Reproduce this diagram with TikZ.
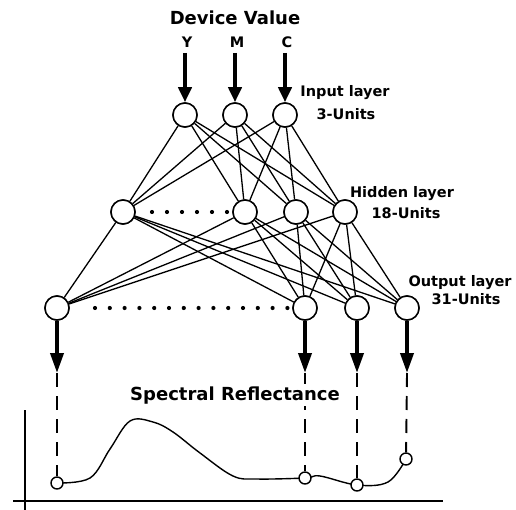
\documentclass[tikz,border=0pt]{standalone}
\usepackage{fontspec}
\setmainfont{DejaVu Sans}
\usetikzlibrary{arrows.meta}
\begin{document}
\begin{tikzpicture}[x=1pt,y=-1pt,
  unit/.style={circle,draw,line width=1.5pt,minimum size=24pt,inner sep=0pt,fill=white},
  pt/.style={circle,draw,line width=1.4pt,minimum size=12pt,inner sep=0pt,fill=white},
  conn/.style={line width=1.3pt},
  inarrow/.style={line width=3.8pt,-{Triangle[length=15pt,width=13pt]}},
  outarrow/.style={line width=3.8pt,-{Triangle[length=20pt,width=13pt]}},
  drop/.style={line width=1.9pt,dash pattern=on 14pt off 9pt},
  lbl/.style={font=\bfseries\fontsize{14.5}{16}\selectfont,anchor=base,inner sep=0pt},
  ttl/.style={font=\bfseries\fontsize{18}{20}\selectfont,anchor=base},
  dotrow/.style={fill=black}
]
\useasboundingbox (0,0) rectangle (516,510);

% units
\node[unit] (i1) at (185,115) {};
\node[unit] (i2) at (235,115) {};
\node[unit] (i3) at (285,115) {};
\node[unit] (h1) at (123,212) {};
\node[unit] (h2) at (245,212) {};
\node[unit] (h3) at (296,212) {};
\node[unit] (h4) at (345,212) {};
\node[unit] (o1) at (57,308) {};
\node[unit] (o2) at (305,308) {};
\node[unit] (o3) at (357,308) {};
\node[unit] (o4) at (407,308) {};

% connections
\foreach \a in {i1,i2,i3}{\foreach \b in {h1,h2,h3,h4}{\draw[conn] (\a) -- (\b);}}
\foreach \a in {h1,h2,h3,h4}{\foreach \b in {o1,o2,o3,o4}{\draw[conn] (\a) -- (\b);}}

% redraw units on top
\foreach \n in {i1,i2,i3,h1,h2,h3,h4,o1,o2,o3,o4}{\draw[line width=1.5pt,fill=white] (\n) circle (12pt);}

% dotted rows
\foreach \k in {0,...,5}{\fill[dotrow] (152+\k*15,212) circle (2.1pt);}
\foreach \k in {0,...,13}{\fill[dotrow] (95+\k*14.8,308) circle (2.1pt);}

% titles
\node[ttl] (dv) at (235,25) {Device Value};
\node[lbl] (ly) at (187,48) {Y};
\node[lbl] (lm) at (237,48) {M};
\node[lbl] (lc) at (287,48) {C};
\node[lbl] (il) at (345,97) {Input layer};
\node[lbl] (iu) at (346,120) {3-Units};
\node[lbl] (hl) at (402,198) {Hidden layer};
\node[lbl] (hu) at (406,219) {18-Units};
\node[lbl] (ol) at (460,287) {Output layer};
\node[lbl] (ou) at (466,305) {31-Units};

% input arrows
\coordinate (ty) at (185,53);
\coordinate (tm) at (235,53);
\coordinate (tc) at (285,53);
\draw[inarrow] (ty) -- (i1);
\draw[inarrow] (tm) -- (i2);
\draw[inarrow] (tc) -- (i3);

% output arrows
\coordinate (a1) at (57,373);
\coordinate (a2) at (305,373);
\coordinate (a3) at (357,373);
\coordinate (a4) at (407,373);
\draw[outarrow] (o1) -- (a1);
\draw[outarrow] (o2) -- (a2);
\draw[outarrow] (o3) -- (a3);
\draw[outarrow] (o4) -- (a4);

% graph axes
\draw[line width=1.4pt] (25,410) -- (25,510);
\draw[line width=1.4pt] (13,501) -- (443,501);

% curve
\coordinate (p1) at (57,483);
\coordinate (p2) at (305,478);
\coordinate (p3) at (357,485);
\coordinate (p4) at (406,459);
\draw[line width=1.4pt] plot[smooth,tension=0.6] coordinates {(p1) (90,478) (110,449) (130,421) (153,422) (173,432) (200,453) (233,476) (257,479) (p2) (320,476) (p3) (388,482) (p4)};

\node[pt] (c1) at (p1) {};
\node[pt] (c2) at (p2) {};
\node[pt] (c3) at (p3) {};
\node[pt] (c4) at (p4) {};

% dashed drops
\draw[drop] (a1) -- (c1);
\draw[drop] (a2) -- (c2);
\draw[drop] (a3) -- (c3);
\draw[drop] (a4) -- (c4);

\node[ttl,fill=white,inner sep=2pt] (sr) at (235,400) {Spectral Reflectance};
\end{tikzpicture}
\end{document}
